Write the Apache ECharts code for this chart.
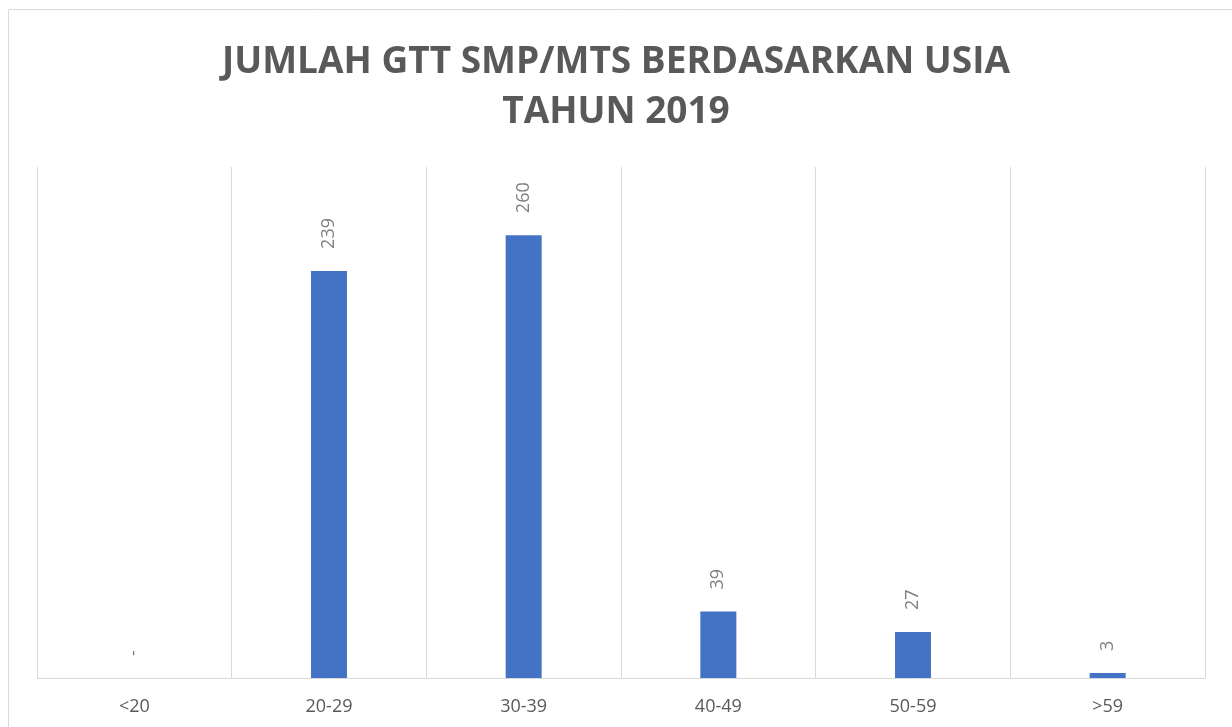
<!DOCTYPE html>
<html>
<head>
<meta charset="utf-8">
<script src="https://cdn.jsdelivr.net/npm/echarts@6/dist/echarts.min.js"></script>
<style>
html, body { margin: 0; padding: 0; background: #fff; }
#chart { width: 1232px; height: 727px; }
</style>
</head>
<body>
<div id="chart"></div>
<script>
// data
let categories = ["<20", "20-29", "30-39", "40-49", "50-59", ">59"];
let jumlah = [0, 239, 260, 39, 27, 3];

let myChart = echarts.init(document.getElementById("chart"));
myChart.setOption({
    backgroundColor: "#fff",
    title: {
        text: "JUMLAH GTT SMP/MTS BERDASARKAN USIA\nTAHUN 2019",
        left: "center",
        top: 32,
        textStyle: {
            color: "#595959",
            fontSize: 37,
            fontWeight: "bold",
            fontFamily: "Open Sans",
            lineHeight: 50,
        },
    },
    graphic: [
        {
            type: "rect",
            shape: { x: 8.5, y: 9.5, width: 1240, height: 740 },
            style: { fill: "none", stroke: "#d9d9d9", lineWidth: 1 },
            silent: true,
        },
    ],
    grid: {
        left: 37,
        right: 27,
        top: 167,
        bottom: 49,
    },
    xAxis: {
        type: "category",
        data: categories,
        axisLine: {
            lineStyle: { color: "#d9d9d9", width: 1 },
        },
        axisTick: { show: false },
        axisLabel: {
            color: "#595959",
            fontSize: 18,
            fontFamily: "Open Sans",
            margin: 20,
        },
        splitLine: {
            show: true,
            lineStyle: { color: "#d9d9d9", width: 1 },
        },
    },
    yAxis: {
        type: "value",
        min: 0,
        max: 300,
        show: false,
        splitLine: { show: false },
    },
    series: [
        {
            type: "bar",
            data: jumlah,
            barWidth: "18.5%",
            itemStyle: { color: "#4472c4" },
            label: {
                show: true,
                position: "top",
                rotate: 90,
                align: "left",
                verticalAlign: "middle",
                distance: 22,
                color: "#7f7f7f",
                fontSize: 18,
                fontFamily: "Open Sans",
                formatter: function (p) {
                    return p.value === 0 ? "-" : String(p.value);
                },
            },
        },
    ],
});
</script>
</body>
</html>
